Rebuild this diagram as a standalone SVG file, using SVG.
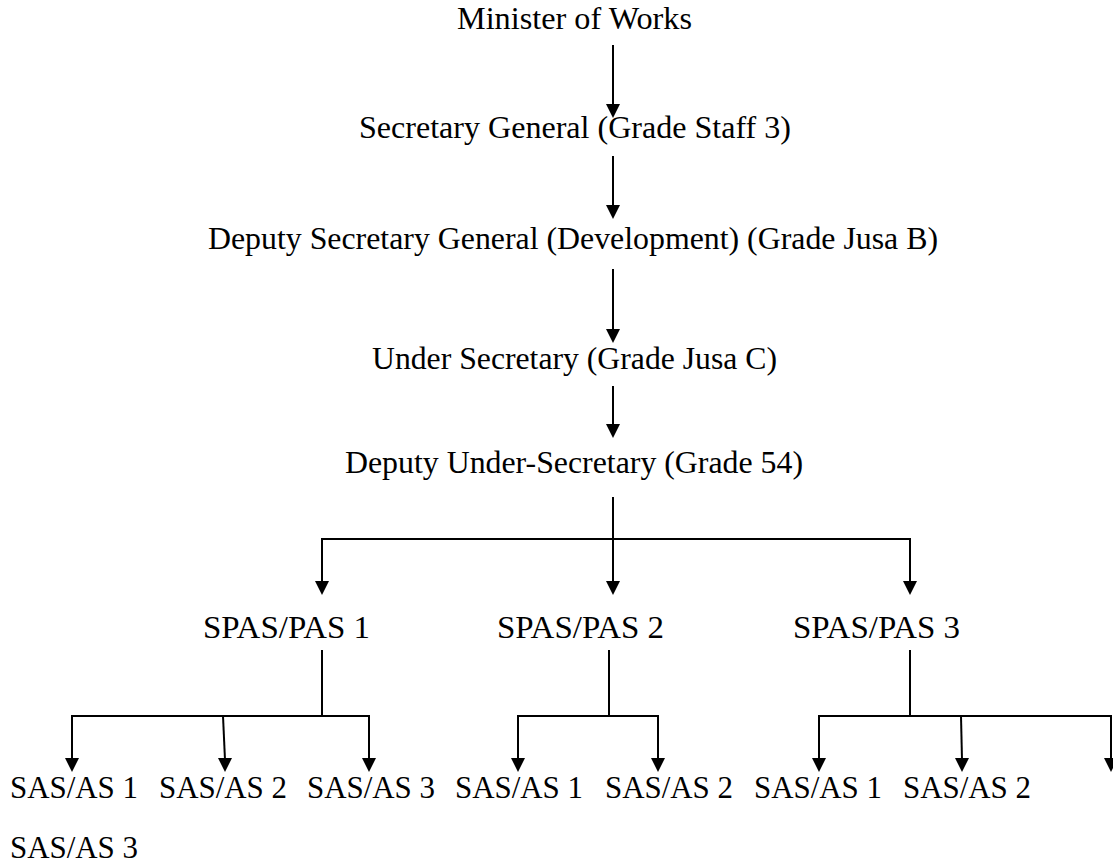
<svg xmlns="http://www.w3.org/2000/svg" width="1113" height="863" viewBox="0 0 1113 863">
  <style>
    .lbl { font-family: "Liberation Serif", "Times New Roman", serif; font-size: 30.5px; fill: #000; }
    .ln { fill: none; stroke: #000; stroke-width: 2; }
  </style>
  <defs>
    <!-- downward arrowhead, tip at the origin -->
    <path id="tip" d="M-7,-14 L7,-14 L0,0 Z" fill="#000"/>
  </defs>
  <rect width="1113" height="863" fill="#fff"/>

  <g id="connectors">
    <!-- vertical chain of command -->
    <line class="ln" x1="613" y1="45" x2="613" y2="105"/>
    <use href="#tip" x="613" y="118"/>
    <line class="ln" x1="613" y1="156" x2="613" y2="206"/>
    <use href="#tip" x="613" y="219"/>
    <line class="ln" x1="613" y1="269" x2="613" y2="330"/>
    <use href="#tip" x="613" y="343"/>
    <line class="ln" x1="613" y1="386" x2="613" y2="425"/>
    <use href="#tip" x="613" y="438"/>

    <!-- Deputy Under-Secretary to SPAS/PAS -->
    <line class="ln" x1="613" y1="497" x2="613" y2="583"/>
    <polyline class="ln" points="322,583 322,539 910,539 910,583"/>
    <use href="#tip" x="322" y="595"/>
    <use href="#tip" x="613" y="595"/>
    <use href="#tip" x="910" y="595"/>

    <!-- SPAS/PAS 1 to SAS/AS -->
    <line class="ln" x1="322" y1="650" x2="322" y2="716"/>
    <polyline class="ln" points="72,760 72,716 369,716 369,760"/>
    <line class="ln" x1="223" y1="716" x2="225" y2="760"/>
    <use href="#tip" x="72" y="772"/>
    <use href="#tip" x="225" y="772"/>
    <use href="#tip" x="369" y="772"/>

    <!-- SPAS/PAS 2 to SAS/AS -->
    <line class="ln" x1="609" y1="650" x2="609" y2="716"/>
    <polyline class="ln" points="518,760 518,716 658,716 658,760"/>
    <use href="#tip" x="518" y="772"/>
    <use href="#tip" x="658" y="772"/>

    <!-- SPAS/PAS 3 to SAS/AS -->
    <line class="ln" x1="910" y1="650" x2="910" y2="716"/>
    <polyline class="ln" points="819,760 819,716 1111,716 1111,760"/>
    <line class="ln" x1="961" y1="716" x2="962" y2="760"/>
    <use href="#tip" x="819" y="772"/>
    <use href="#tip" x="962" y="772"/>
    <use href="#tip" x="1111" y="772"/>
  </g>

  <g id="minister"><text class="lbl" x="457" y="29" textLength="235" lengthAdjust="spacingAndGlyphs">Minister of Works</text></g>
  <g id="secretary-general"><text class="lbl" x="359" y="138" textLength="432" lengthAdjust="spacingAndGlyphs">Secretary General (Grade Staff 3)</text></g>
  <g id="deputy-secretary-general"><text class="lbl" x="208" y="249" textLength="730" lengthAdjust="spacingAndGlyphs">Deputy Secretary General (Development) (Grade Jusa B)</text></g>
  <g id="under-secretary"><text class="lbl" x="372" y="369" textLength="405" lengthAdjust="spacingAndGlyphs">Under Secretary (Grade Jusa C)</text></g>
  <g id="deputy-under-secretary"><text class="lbl" x="345" y="473" textLength="458" lengthAdjust="spacingAndGlyphs">Deputy Under-Secretary (Grade 54)</text></g>

  <g id="spas-pas-1"><text class="lbl" x="203" y="638" textLength="167" lengthAdjust="spacingAndGlyphs">SPAS/PAS 1</text></g>
  <g id="spas-pas-2"><text class="lbl" x="497" y="638" textLength="167" lengthAdjust="spacingAndGlyphs">SPAS/PAS 2</text></g>
  <g id="spas-pas-3"><text class="lbl" x="793" y="638" textLength="167" lengthAdjust="spacingAndGlyphs">SPAS/PAS 3</text></g>

  <g id="sas-as-1a"><text class="lbl" x="10" y="798" textLength="128" lengthAdjust="spacingAndGlyphs">SAS/AS 1</text></g>
  <g id="sas-as-2a"><text class="lbl" x="159" y="798" textLength="128" lengthAdjust="spacingAndGlyphs">SAS/AS 2</text></g>
  <g id="sas-as-3a"><text class="lbl" x="307" y="798" textLength="128" lengthAdjust="spacingAndGlyphs">SAS/AS 3</text></g>
  <g id="sas-as-1b"><text class="lbl" x="455" y="798" textLength="128" lengthAdjust="spacingAndGlyphs">SAS/AS 1</text></g>
  <g id="sas-as-2b"><text class="lbl" x="605" y="798" textLength="128" lengthAdjust="spacingAndGlyphs">SAS/AS 2</text></g>
  <g id="sas-as-1c"><text class="lbl" x="754" y="798" textLength="128" lengthAdjust="spacingAndGlyphs">SAS/AS 1</text></g>
  <g id="sas-as-2c"><text class="lbl" x="903" y="798" textLength="128" lengthAdjust="spacingAndGlyphs">SAS/AS 2</text></g>
  <g id="sas-as-3c"><text class="lbl" x="10" y="858" textLength="128" lengthAdjust="spacingAndGlyphs">SAS/AS 3</text></g>
</svg>
